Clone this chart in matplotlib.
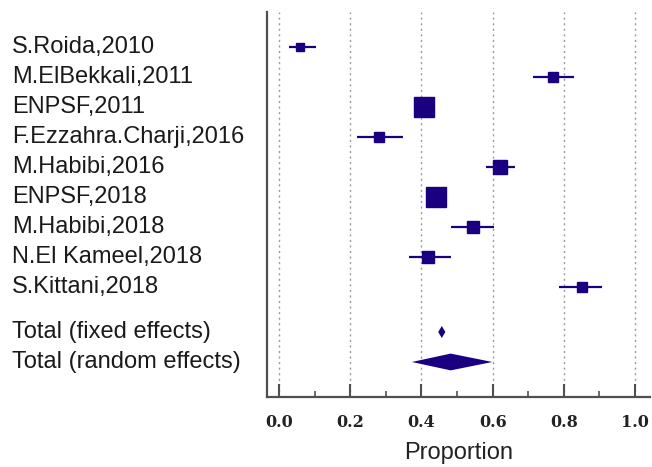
import numpy as np
import matplotlib
matplotlib.use("Agg")
import matplotlib.pyplot as plt
from matplotlib.transforms import blended_transform_factory
from matplotlib.ticker import MultipleLocator

# study level data
studies = ["S.Roida,2010", "M.ElBekkali,2011", "ENPSF,2011", "F.Ezzahra.Charji,2016",
           "M.Habibi,2016", "ENPSF,2018", "M.Habibi,2018", "N.El Kameel,2018", "S.Kittani,2018"]
proportion = [0.059, 0.769, 0.407, 0.280, 0.620, 0.441, 0.544, 0.418, 0.852]
ci_low = [0.029, 0.712, 0.392, 0.220, 0.580, 0.412, 0.484, 0.364, 0.787]
ci_high = [0.104, 0.827, 0.422, 0.349, 0.663, 0.472, 0.604, 0.483, 0.906]
weights = [4.9, 5.5, 24.4, 5.5, 11.1, 25.6, 8.8, 8.1, 6.1]

# pooled estimates
pooled_labels = ["Total (fixed effects)", "Total (random effects)"]
pooled_est = [0.457, 0.482]
pooled_low = [0.447, 0.373]
pooled_high = [0.467, 0.599]

xticks = [0.0, 0.2, 0.4, 0.6, 0.8, 1.0]

navy = "#1a0080"

fig = plt.figure(figsize=(6.52, 4.67), dpi=100)
ax = fig.add_axes([0.4095, 0.1499, 0.5875, 0.8244])

rows = np.arange(len(studies))
for i in rows:
    ax.plot([ci_low[i], ci_high[i]], [i, i], color=navy, lw=1.6, solid_capstyle="butt", zorder=3)
    ax.plot(proportion[i], i, marker="s", color=navy, ms=2.92 * np.sqrt(weights[i]),
            mec=navy, zorder=4)

pooled_rows = [len(studies) + 0.5, len(studies) + 1.5]
half_h = [0.2, 0.28]
for j, y in enumerate(pooled_rows):
    xs = [pooled_low[j], pooled_est[j], pooled_high[j], pooled_est[j]]
    ys = [y, y - half_h[j], y, y + half_h[j]]
    ax.fill(xs, ys, color=navy, lw=0, zorder=4)

ax.set_xlim(-0.034, 1.042)
ax.set_ylim(11.667, -1.167)

ax.set_xticks(xticks)
ax.set_xticklabels([f"{v:.1f}" for v in xticks],
                   fontfamily="DejaVu Serif", fontweight="bold", fontsize=11.5, color="#222222")
ax.xaxis.set_minor_locator(MultipleLocator(0.1))
ax.set_yticks([])
for x in xticks:
    ax.axvline(x, color="#9a9a9a", lw=1.0, ls=(0, (1.5, 2.5)), zorder=1)

for s in ["top", "right"]:
    ax.spines[s].set_visible(False)
for s in ["left", "bottom"]:
    ax.spines[s].set_color("#505050")
    ax.spines[s].set_linewidth(1.6)

ax.tick_params(axis="x", which="major", direction="in", length=9.5, width=1.5,
               color="#505050", pad=12)
ax.tick_params(axis="x", which="minor", direction="in", length=4.5, width=1.2,
               color="#505050")
ax.set_xlabel("Proportion", fontfamily="Liberation Sans", fontsize=17, labelpad=8, color="#222222")

trans = blended_transform_factory(fig.transFigure, ax.transData)
for i, name in enumerate(studies):
    ax.text(12 / 652, i, name, transform=trans, ha="left", va="center",
            fontfamily="Liberation Sans", fontsize=17, color="#1a1a1a")
for j, name in enumerate(pooled_labels):
    ax.text(12 / 652, pooled_rows[j], name, transform=trans, ha="left", va="center",
            fontfamily="Liberation Sans", fontsize=17, color="#1a1a1a")

fig.savefig("out.png", dpi=100)
